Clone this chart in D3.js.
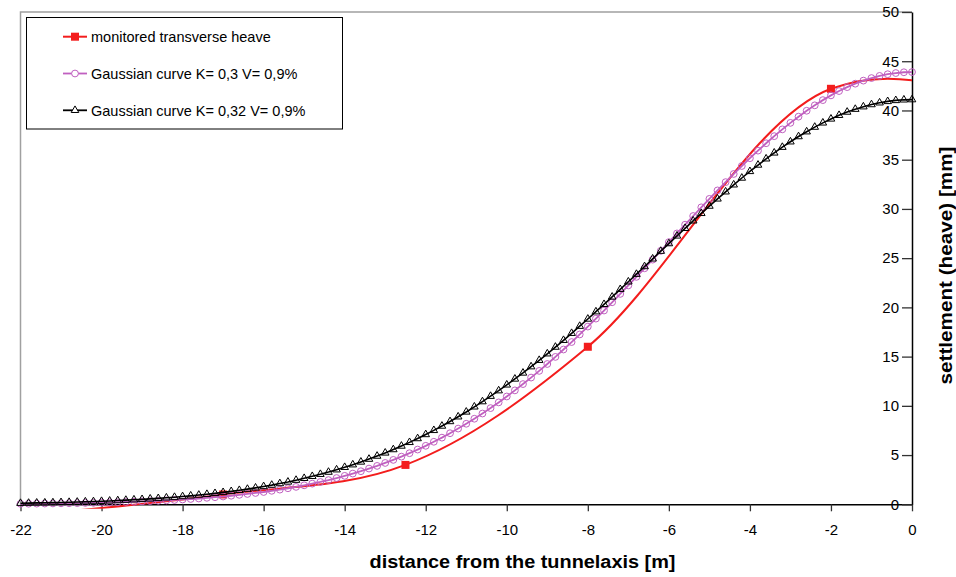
<!DOCTYPE html>
<head>
  <meta charset="utf-8">
  <script src="https://d3js.org/d3.v7.min.js"></script>
  <style>
    body {
      margin: 0;
      background: #fff;
      font-family: "Liberation Sans", Arial, Helvetica, sans-serif;
    }

    .tick text {
      font-size: 15px;
      fill: #000;
    }

    .axis-title {
      font-size: 18px;
      font-weight: bold;
      fill: #000;
    }

    .legend text {
      font-size: 14.5px;
      fill: #000;
    }
  </style>
</head>

<body>
  <div id="vis"></div>
  <script>

    // distance from the tunnel axis [m], one point every 0.2 m
    var distance = [
      -22, -21.8, -21.6, -21.4, -21.2, -21, -20.8, -20.6, -20.4, -20.2,
      -20, -19.8, -19.6, -19.4, -19.2, -19, -18.8, -18.6, -18.4, -18.2,
      -18, -17.8, -17.6, -17.4, -17.2, -17, -16.8, -16.6, -16.4, -16.2,
      -16, -15.8, -15.6, -15.4, -15.2, -15, -14.8, -14.6, -14.4, -14.2,
      -14, -13.8, -13.6, -13.4, -13.2, -13, -12.8, -12.6, -12.4, -12.2,
      -12, -11.8, -11.6, -11.4, -11.2, -11, -10.8, -10.6, -10.4, -10.2,
      -10, -9.8, -9.6, -9.4, -9.2, -9, -8.8, -8.6, -8.4, -8.2,
      -8, -7.8, -7.6, -7.4, -7.2, -7, -6.8, -6.6, -6.4, -6.2,
      -6, -5.8, -5.6, -5.4, -5.2, -5, -4.8, -4.6, -4.4, -4.2,
      -4, -3.8, -3.6, -3.4, -3.2, -3, -2.8, -2.6, -2.4, -2.2,
      -2, -1.8, -1.6, -1.4, -1.2, -1, -0.8, -0.6, -0.4, -0.2,
      0
    ];

    // Gaussian curve K= 0,3 V= 0,9%  [mm]
    var gaussK30 = [
      0.05, 0.06, 0.07, 0.08, 0.09, 0.10, 0.11, 0.12, 0.14, 0.15,
      0.17, 0.19, 0.21, 0.24, 0.26, 0.29, 0.32, 0.36, 0.40, 0.44,
      0.49, 0.54, 0.59, 0.66, 0.72, 0.79, 0.87, 0.96, 1.05, 1.15,
      1.25, 1.37, 1.49, 1.63, 1.77, 1.93, 2.10, 2.27, 2.46, 2.67,
      2.89, 3.12, 3.36, 3.63, 3.90, 4.20, 4.51, 4.84, 5.19, 5.56,
      5.94, 6.35, 6.77, 7.22, 7.69, 8.18, 8.69, 9.22, 9.77, 10.35,
      10.95, 11.57, 12.21, 12.87, 13.55, 14.25, 14.97, 15.72, 16.48, 17.25,
      18.05, 18.86, 19.68, 20.52, 21.37, 22.23, 23.10, 23.97, 24.85, 25.74,
      26.63, 27.51, 28.40, 29.28, 30.16, 31.02, 31.88, 32.72, 33.55, 34.36,
      35.15, 35.92, 36.67, 37.39, 38.08, 38.74, 39.37, 39.97, 40.52, 41.05,
      41.53, 41.97, 42.37, 42.72, 43.03, 43.29, 43.51, 43.68, 43.80, 43.88,
      43.90
    ];

    // Gaussian curve K= 0,32 V= 0,9%  [mm]
    var gaussK32 = [
      0.11, 0.12, 0.14, 0.15, 0.17, 0.19, 0.21, 0.23, 0.26, 0.28,
      0.31, 0.34, 0.38, 0.42, 0.46, 0.50, 0.55, 0.60, 0.66, 0.72,
      0.79, 0.86, 0.94, 1.02, 1.11, 1.21, 1.31, 1.42, 1.54, 1.67,
      1.81, 1.95, 2.11, 2.27, 2.45, 2.64, 2.84, 3.05, 3.27, 3.51,
      3.76, 4.02, 4.30, 4.59, 4.90, 5.22, 5.56, 5.92, 6.29, 6.68,
      7.09, 7.51, 7.95, 8.41, 8.89, 9.38, 9.90, 10.43, 10.98, 11.54,
      12.13, 12.73, 13.34, 13.98, 14.63, 15.29, 15.97, 16.66, 17.37, 18.09,
      18.82, 19.56, 20.31, 21.06, 21.83, 22.60, 23.37, 24.15, 24.93, 25.71,
      26.48, 27.26, 28.03, 28.79, 29.55, 30.29, 31.02, 31.74, 32.45, 33.14,
      33.81, 34.46, 35.09, 35.69, 36.27, 36.82, 37.35, 37.84, 38.31, 38.74,
      39.14, 39.51, 39.84, 40.13, 40.38, 40.60, 40.78, 40.92, 41.02, 41.08,
      41.10
    ];

    // monitored transverse heave (points outside the axis range are clipped away)
    var monitoredX = [-24, -17, -12.5, -8, -2, 2, 8];
    var monitoredY = [-1.9, 1.0, 4.0, 16.0, 42.2, 40.4, 16.0];

    var xTicks = [-22, -20, -18, -16, -14, -12, -10, -8, -6, -4, -2, 0];
    var yTicks = [0, 5, 10, 15, 20, 25, 30, 35, 40, 45, 50];

    var legendLabels = [
      "monitored transverse heave",
      "Gaussian curve K= 0,3 V= 0,9%",
      "Gaussian curve K= 0,32 V= 0,9%"
    ];

    var red = "#f31d1d",
      pink = "#c060c0",
      black = "#000";

    var width = 956,
      height = 577;

    var plot = { left: 20.5, right: 912, top: 12, bottom: 504.3 };

    var svg = d3.select("#vis")
      .append("svg")
      .attr("width", width)
      .attr("height", height);

    var x = d3.scaleLinear()
      .domain([-22, 0])
      .range([plot.left, plot.right]);

    var y = d3.scaleLinear()
      .domain([0, 50])
      .range([plot.bottom, plot.top]);

    svg.append("defs")
      .append("clipPath")
      .attr("id", "plot-clip")
      .append("rect")
      .attr("x", plot.left)
      .attr("y", plot.top)
      .attr("width", plot.right - plot.left)
      .attr("height", plot.bottom - plot.top + 4.5);

    ////////// frame //////////

    svg.append("path")
      .attr("d", "M" + plot.left + "," + plot.bottom + "V" + plot.top + "H" + plot.right)
      .attr("fill", "none")
      .attr("stroke", "#a0a0a0")
      .attr("stroke-width", 1.5);

    ////////// axes //////////

    var xAxis = svg.append("g")
      .attr("transform", "translate(0," + plot.bottom + ")")
      .call(d3.axisBottom(x)
        .tickValues(xTicks)
        .tickSize(7)
        .tickSizeOuter(0)
        .tickPadding(13)
        .tickFormat(d3.format("d")));

    xAxis.select(".domain").attr("stroke", "#000").attr("stroke-width", 1.5);
    xAxis.selectAll(".tick line").attr("stroke", "#333").attr("stroke-width", 1.3);
    xAxis.selectAll(".tick text")
      .text(function (d) { return d < 0 ? "-" + Math.abs(d) : d; });

    var yAxis = svg.append("g")
      .attr("transform", "translate(" + plot.right + ",0)")
      .call(d3.axisLeft(y)
        .tickValues(yTicks)
        .tickSize(10)
        .tickSizeOuter(0)
        .tickPadding(3));

    yAxis.select(".domain").attr("stroke", "#000").attr("stroke-width", 1.5);
    yAxis.selectAll(".tick line").attr("stroke", "#333").attr("stroke-width", 1.3);
    xAxis.attr("font-family", null).attr("font-size", null);
    yAxis.attr("font-family", null).attr("font-size", null);

    svg.append("text")
      .attr("class", "axis-title")
      .attr("x", 522.5)
      .attr("y", 568)
      .attr("text-anchor", "middle")
      .attr("textLength", 306)
      .attr("lengthAdjust", "spacingAndGlyphs")
      .text("distance from the tunnelaxis [m]");

    svg.append("text")
      .attr("class", "axis-title")
      .attr("transform", "translate(945.5,265.5) rotate(-90)")
      .attr("text-anchor", "middle")
      .attr("dy", "0.36em")
      .attr("textLength", 238)
      .attr("lengthAdjust", "spacingAndGlyphs")
      .text("settlement (heave) [mm]");

    ////////// series //////////

    var gaussLine = d3.line()
      .x(function (d) { return x(d[0]); })
      .y(function (d) { return y(d[1]); });

    var smoothLine = d3.line()
      .curve(d3.curveCatmullRom.alpha(0.5))
      .x(function (d) { return x(d[0]); })
      .y(function (d) { return y(d[1]); });

    var monitored = monitoredX.map(function (d, i) { return [d, monitoredY[i]]; });
    var k30 = distance.map(function (d, i) { return [d, gaussK30[i]]; });
    var k32 = distance.map(function (d, i) { return [d, gaussK32[i]]; });

    var triangle = d3.symbol().type(d3.symbolTriangle).size(25);

    // red: smoothed line with square markers
    var redLayer = svg.append("g").attr("clip-path", "url(#plot-clip)");

    redLayer.append("path")
      .datum(monitored)
      .attr("d", smoothLine)
      .attr("fill", "none")
      .attr("stroke", red)
      .attr("stroke-width", 2);

    redLayer.selectAll(".red-marker")
      .data(monitored)
      .enter()
      .append("rect")
      .attr("class", "red-marker")
      .attr("x", function (d) { return x(d[0]) - 4; })
      .attr("y", function (d) { return y(d[1]) - 4; })
      .attr("width", 8)
      .attr("height", 8)
      .attr("fill", red);

    // pink: line with open circles
    svg.append("path")
      .datum(k30)
      .attr("d", gaussLine)
      .attr("fill", "none")
      .attr("stroke", pink)
      .attr("stroke-width", 1.8);

    svg.selectAll(".pink-marker")
      .data(k30)
      .enter()
      .append("circle")
      .attr("class", "pink-marker")
      .attr("cx", function (d) { return x(d[0]); })
      .attr("cy", function (d) { return y(d[1]); })
      .attr("r", 3.4)
      .attr("fill", "none")
      .attr("stroke", pink)
      .attr("stroke-width", 1);

    // black: line with open triangles
    svg.append("path")
      .datum(k32)
      .attr("d", gaussLine)
      .attr("fill", "none")
      .attr("stroke", black)
      .attr("stroke-width", 1.6);

    svg.selectAll(".black-marker")
      .data(k32)
      .enter()
      .append("path")
      .attr("class", "black-marker")
      .attr("d", triangle)
      .attr("transform", function (d) { return "translate(" + x(d[0]) + "," + y(d[1]) + ")"; })
      .attr("fill", "none")
      .attr("stroke", black)
      .attr("stroke-width", 1);

    ////////// legend //////////

    var legend = svg.append("g").attr("class", "legend");

    legend.append("rect")
      .attr("x", 26.5)
      .attr("y", 17.5)
      .attr("width", 316)
      .attr("height", 111.5)
      .attr("fill", "#fff")
      .attr("stroke", "#000")
      .attr("stroke-width", 1);

    var rowY = [36.7, 73.5, 110.3];
    var rowColor = [red, pink, black];

    legendLabels.forEach(function (label, i) {
      legend.append("line")
        .attr("x1", 63)
        .attr("x2", 87)
        .attr("y1", rowY[i])
        .attr("y2", rowY[i])
        .attr("stroke", rowColor[i])
        .attr("stroke-width", i == 0 ? 2 : 1.8);

      if (i == 0) {
        legend.append("rect")
          .attr("x", 71)
          .attr("y", rowY[i] - 4)
          .attr("width", 8)
          .attr("height", 8)
          .attr("fill", red);
      } else if (i == 1) {
        legend.append("circle")
          .attr("cx", 75)
          .attr("cy", rowY[i])
          .attr("r", 3.4)
          .attr("fill", "#fff")
          .attr("stroke", pink);
      } else {
        legend.append("path")
          .attr("d", triangle)
          .attr("transform", "translate(75," + rowY[i] + ")")
          .attr("fill", "#fff")
          .attr("stroke", black);
      }

      legend.append("text")
        .attr("x", 91)
        .attr("y", rowY[i] + 5.3)
        .text(label);
    });

  </script>
</body>
